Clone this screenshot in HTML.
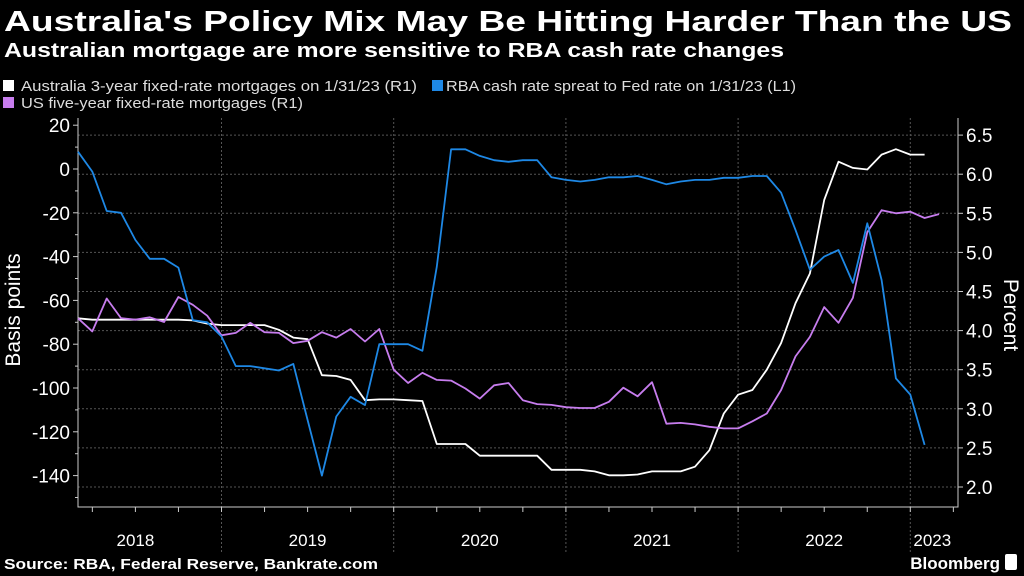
<!DOCTYPE html>
<html><head><meta charset="utf-8"><style>
body{margin:0;background:#000;width:1024px;height:576px;overflow:hidden;font-family:"Liberation Sans",sans-serif;color:#fff}
svg{position:absolute;left:0;top:0}
</style></head><body>
<svg width="1024" height="576">
<text x="4" y="31" font-size="29" font-weight="bold" fill="#fff" textLength="1008" lengthAdjust="spacingAndGlyphs">Australia's Policy Mix May Be Hitting Harder Than the US</text>
<text x="4" y="57" font-size="20" font-weight="bold" fill="#fff" textLength="780" lengthAdjust="spacingAndGlyphs">Australian mortgage are more sensitive to RBA cash rate changes</text>
<g font-size="15" fill="#ddd">
<rect x="3" y="80" width="11" height="11" fill="#fff"/>
<text x="21" y="91" textLength="396" lengthAdjust="spacingAndGlyphs">Australia 3-year fixed-rate mortgages on 1/31/23 (R1)</text>
<rect x="432" y="80" width="11" height="11" fill="#1e88e5"/>
<text x="446" y="91" textLength="350" lengthAdjust="spacingAndGlyphs">RBA cash rate spreat to Fed rate on 1/31/23 (L1)</text>
<rect x="3" y="97" width="11" height="11" fill="#c77dee"/>
<text x="21" y="108" textLength="282" lengthAdjust="spacingAndGlyphs">US five-year fixed-rate mortgages (R1)</text>
</g>
<g id="grid"></g><g id="axes"></g><g id="series"></g>
<text transform="translate(20,310) rotate(-90)" text-anchor="middle" font-size="21" fill="#fff">Basis points</text>
<text transform="translate(1004,315) rotate(90)" text-anchor="middle" font-size="21" fill="#fff">Percent</text>
<text x="4" y="569" font-size="15" font-weight="bold" fill="#fff" textLength="374" lengthAdjust="spacingAndGlyphs">Source: RBA, Federal Reserve, Bankrate.com</text>
<text x="1000" y="569" text-anchor="end" font-size="17" font-weight="bold" fill="#fff">Bloomberg</text>
<rect x="1005" y="554" width="12" height="16" rx="2" fill="#fff"/>
</svg>
<script>
const rbaSpread=[7.9,-1.2,-19.2,-20,-32.4,-41,-41,-45,-69,-70,-76.5,-90,-90,-91,-92,-89,-114.6,-140,-113,-104,-107.8,-80,-80,-80,-83,-44.6,9,9,6,4,3.3,4,4,-3.8,-5,-5.7,-5,-3.8,-3.8,-3.2,-5,-7,-5.7,-5,-5,-4,-4,-3.2,-3.2,-10.8,-27.8,-46,-40,-37,-52,-24.8,-50.7,-95.6,-103,-126];
const ausMortgage=[4.157,4.14,4.14,4.14,4.14,4.14,4.14,4.14,4.13,4.09,4.07,4.07,4.07,4.07,4.01,3.91,3.89,3.43,3.42,3.37,3.11,3.12,3.12,3.11,3.10,2.55,2.55,2.55,2.40,2.40,2.40,2.40,2.40,2.22,2.22,2.22,2.20,2.15,2.15,2.16,2.20,2.20,2.20,2.26,2.47,2.94,3.18,3.24,3.50,3.84,4.35,4.73,5.67,6.16,6.08,6.06,6.25,6.32,6.25,6.25];
const usMortgage=[4.157,3.99,4.41,4.16,4.14,4.17,4.11,4.43,4.33,4.19,3.94,3.97,4.10,3.98,3.97,3.84,3.87,3.98,3.91,4.02,3.86,4.02,3.50,3.33,3.46,3.37,3.36,3.26,3.13,3.30,3.33,3.11,3.06,3.05,3.02,3.01,3.01,3.09,3.27,3.16,3.34,2.81,2.82,2.80,2.77,2.75,2.75,2.84,2.94,3.24,3.67,3.92,4.30,4.10,4.42,5.26,5.54,5.50,5.52,5.44,5.49];
const leftTicks=[20,0,-20,-40,-60,-80,-100,-120,-140];
const rightTicks=[6.5,6.0,5.5,5.0,4.5,4.0,3.5,3.0,2.5,2.0];
const years=["2018","2019","2020","2021","2022","2023"];
const yearStartIdx=[-2,10,22,34,46,58];
const X0=78,X1=958,YT=118,YB=507,STEP=14.35;
const xS=i=>X0+i*STEP;
const yL=v=>169-v*2.19;
const yR=v=>487-(v-2)*78.2;
const NS="http://www.w3.org/2000/svg";
function mk(p,t,a){const e=document.createElementNS(NS,t);for(const k in a)e.setAttribute(k,a[k]);p.appendChild(e);return e;}
const grid=document.getElementById('grid'),axes=document.getElementById('axes'),ser=document.getElementById('series');
rightTicks.forEach(v=>{const y=yR(v);
 const l=mk(grid,'line',{x1:X0,x2:X1,y1:y,y2:y,stroke:'#555','stroke-dasharray':'2,2','stroke-width':1});
 
 
 const t=mk(axes,'line',{x1:X1,x2:X1+5,y1:y,y2:y,stroke:'#ccc'});
 
 
 const tx=mk(axes,'text',{x:X1+8,y:y+7,'font-size':19,fill:'#fff'});tx.textContent=v.toFixed(1);
 
 
});
for(let v=-150;v<=20;v+=10){const y=yL(v);if(y<YT||y>YB)continue;
 const t=mk(axes,'line',{x1:X0-(v%20===0?5:3),x2:X0,y1:y,y2:y,stroke:'#ccc'});
 
 }
leftTicks.forEach(v=>{const y=yL(v);
 const tx=mk(axes,'text',{x:X0-8,y:y+7,'font-size':19,fill:'#fff','text-anchor':'end'});tx.textContent=v;
 
 });
yearStartIdx.forEach((s,k)=>{const x=xS(s);
 if(k>0){const l=mk(grid,'line',{x1:x,x2:x,y1:YT,y2:552,stroke:'#555','stroke-dasharray':'2,2'});
 
 }
 const xe=k<years.length-1?xS(yearStartIdx[k+1]):X1;
 const cx=k===years.length-1?x+22:(x+xe)/2;
 const tx=mk(axes,'text',{x:cx,y:546,'font-size':17,fill:'#fff','text-anchor':'middle'});tx.textContent=years[k];
 
 
});
for(let i=1;i<62;i+=3){const x=xS(i);if(x>X1)break;
 const t=mk(axes,'line',{x1:x,x2:x,y1:YB,y2:YB+5,stroke:'#ccc'});
 
 }
const ax=mk(axes,'path',{d:`M${X0},${YT} V${YB} H${X1} V${YT}`,stroke:'#ccc',fill:'none'});


function line(arr,yf,col,name){const d=arr.map((v,i)=>(i?'L':'M')+xS(i).toFixed(1)+','+yf(v).toFixed(1)).join(' ');
 const p=mk(ser,'path',{d:d,stroke:col,'stroke-width':1.8,fill:'none','stroke-linejoin':'round'});
 
 }
line(ausMortgage,yR,'#ffffff','series-australia-mortgage');
line(usMortgage,yR,'#c77dee','series-us-mortgage');
line(rbaSpread,yL,'#1e88e5','series-rba-spread');
</script>
</body></html>
